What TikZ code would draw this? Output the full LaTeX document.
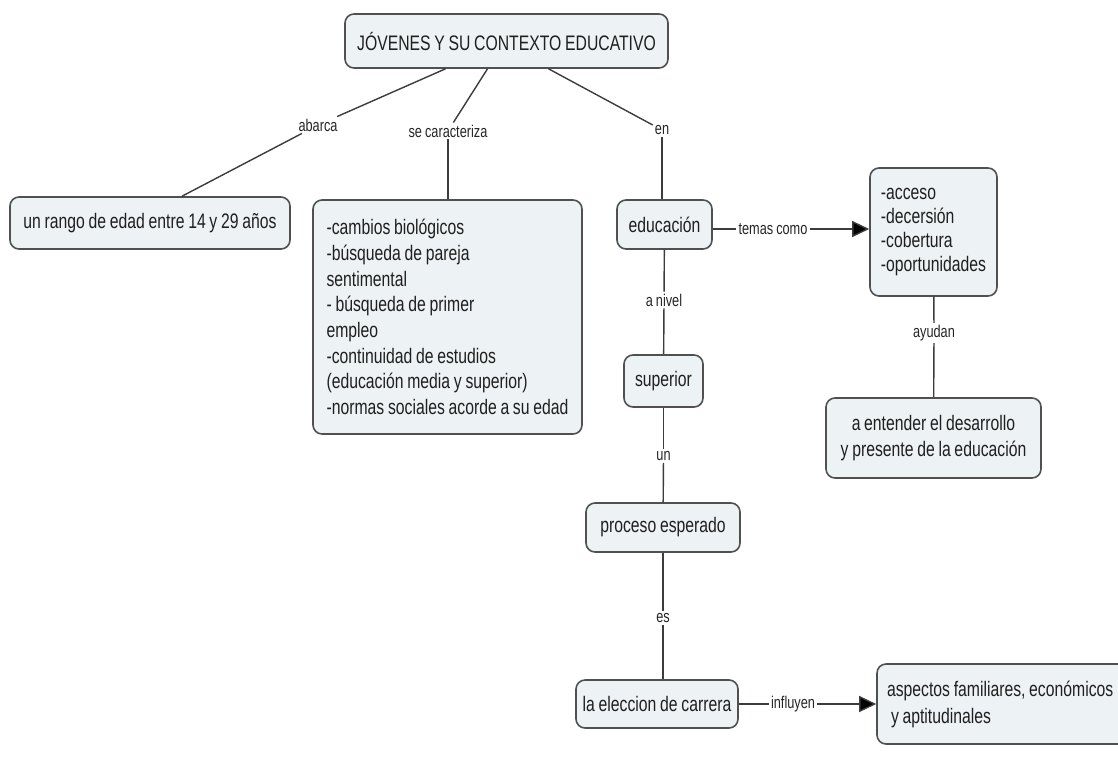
\documentclass[tikz,border=0pt]{standalone}
\usepackage{fontspec}
\setmainfont{Liberation Sans}[FakeStretch=0.75,WordSpace=0.85]
\usetikzlibrary{arrows.meta,calc}
\definecolor{boxfill}{HTML}{EDF3F5}
\definecolor{boxdraw}{HTML}{505050}
\definecolor{linecol}{HTML}{3C3C3C}
\newcommand{\nodefont}{\fontsize{21}{25.7}\selectfont}
\newcommand{\lblfont}{\fontsize{17}{20}\selectfont}
\tikzset{
  concept/.style={draw=boxdraw, line width=1.6pt, rounded corners=9pt, fill=boxfill,
    font=\nodefont, inner sep=0pt, align=center, text=black!88},
  lbl/.style={fill=white, font=\lblfont, inner sep=2pt, text=black!85},
  link/.style={draw=linecol, line width=1.4pt},
  arr/.style={link, -{Triangle[length=17pt,width=16pt,fill=black]}}
}
\begin{document}
\begin{tikzpicture}[x=1pt,y=-1pt]
\useasboundingbox[fill=white] (0,0) rectangle (1118,763);

% concepts
\node[concept, minimum width=323pt, minimum height=54pt] (root) at (506.5,41) {JÓVENES Y SU CONTEXTO EDUCATIVO};
\node[concept, minimum width=280pt, minimum height=52pt] (rango) at (150,223) {un rango de edad entre 14 y 29 años};
\node[concept, minimum width=269pt, minimum height=234pt, align=left] (big) at (447.5,317)
  {-cambios biológicos\\-búsqueda de pareja\\sentimental\\- búsqueda de primer\\empleo\\-continuidad de estudios\\(educación media y superior)\\-normas sociales acorde a su edad};
\node[concept, minimum width=95pt, minimum height=49pt] (educ) at (664.5,224.5) {educación};
\node[concept, minimum width=127pt, minimum height=128pt, align=left, font=\fontsize{21}{24.3}\selectfont] (lista) at (933.5,232)
  {-acceso\\-decersión\\-cobertura\\-oportunidades};
\node[concept, minimum width=79pt, minimum height=52pt] (sup) at (663.5,381) {superior};
\node[concept, minimum width=215pt, minimum height=80pt, font=\fontsize{21}{26}\selectfont] (entender) at (933.5,438)
  {a entender el desarrollo\\y presente de la educación};
\node[concept, minimum width=154pt, minimum height=49pt] (proceso) at (663,527.5) {proceso esperado};
\node[concept, minimum width=162pt, minimum height=48pt] (eleccion) at (657,704) {la eleccion de carrera};
\node[concept, minimum height=80pt, text width=238pt, inner xsep=10pt, align=flush left, font=\fontsize{21}{27}\selectfont] (aspectos) at (1006,704)
  {aspectos familiares, económicos\\\hspace{4pt}y aptitudinales};

% labels
\node[lbl] (abarca) at (318,125) {abarca};
\node[lbl] (secar) at (448,131) {se caracteriza};
\node[lbl] (en) at (662,130) {en};
\node[lbl] (temas) at (773,229) {temas como};
\node[lbl] (nivel) at (664,300) {a nivel};
\node[lbl] (ayudan) at (934,333) {ayudan};
\node[lbl] (un) at (663.5,456) {un};
\node[lbl] (es) at (663,618) {es};
\node[lbl] (influyen) at (793,704) {influyen};

% connectors
\draw[link] ($(root.south)+(-61,0)$) -- (abarca);
\draw[link] (abarca) -- ($(rango.north)+(32,0)$);
\draw[link] ($(root.south)+(-19,0)$) -- (secar);
\draw[link] (secar) -- (secar |- big.north);
\draw[link] ($(root.south)+(42,0)$) -- (en);
\draw[link] (en) -- (en |- educ.north);
\draw[link] (educ.east |- temas) -- (temas);
\draw[arr] (temas) -- (temas -| lista.west);
\draw[link] (educ) -- (nivel);
\draw[link] (nivel) -- (sup);
\draw[link] (lista) -- (ayudan);
\draw[link] (ayudan) -- (entender);
\draw[link] (sup) -- (un);
\draw[link] (un) -- (proceso);
\draw[link] (proceso.south -| es) -- (es);
\draw[link] (es) -- (es |- eleccion.north);
\draw[link] (eleccion) -- (influyen);
\draw[arr] (influyen) -- (aspectos);
\end{tikzpicture}
\end{document}
